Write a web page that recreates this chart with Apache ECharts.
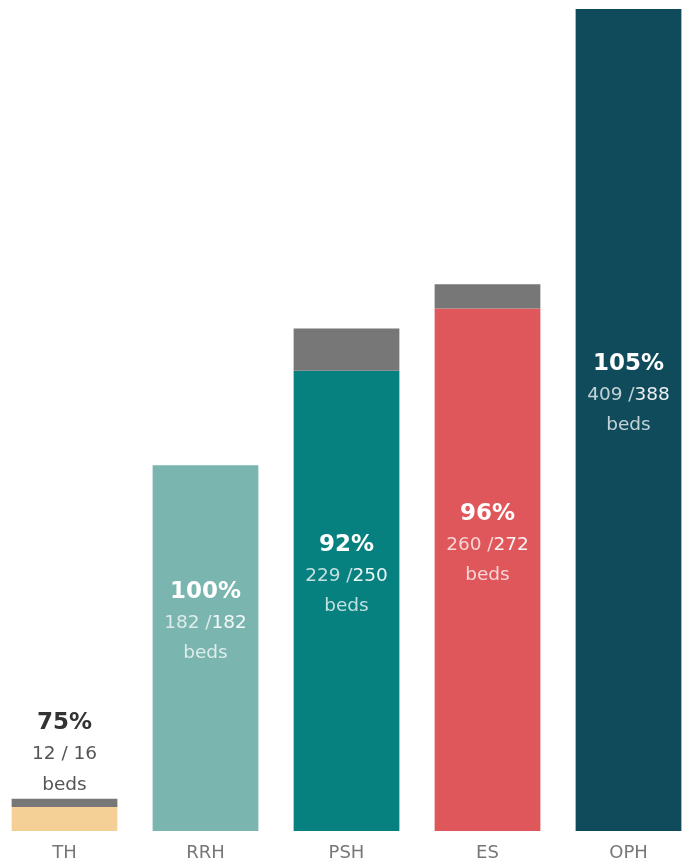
<!DOCTYPE html>
<html><head><meta charset="utf-8">
<script src="https://cdn.jsdelivr.net/npm/echarts@6/dist/echarts.min.js"></script>
<style>html,body{margin:0;padding:0;background:#fff}#c{width:692px;height:861px}</style>
</head><body><div id="c"></div>
<script>
const categories = ['TH','RRH','PSH','ES','OPH'];
const occupied = [12,182,229,260,409];
const capacity = [16,182,250,272,388];
const pctLabels = ['75%','100%','92%','96%','105%'];
const barColors = ['#F4D096','#7AB5AF','#07817F','#E0575B','#0F4B5B'];
const greyColor = '#777777';

const remaining = capacity.map((c,i)=>Math.max(c-occupied[i],0));
const FONT = '"DejaVu Sans", sans-serif';

const occData = occupied.map((v,i)=>{
  const d = {value:v, itemStyle:{color:barColors[i]}};
  if (i===0) { d.label = {show:false}; }
  return d;
});
const remData = remaining.map((v,i)=>{
  const d = {value:v};
  if (i===0) {
    d.label = {
      show:true, position:'top', distance:-1,
      formatter: `{p|${pctLabels[i]}}\n{n|${occupied[i]} / ${capacity[i]}}\n{b|beds}`,
      rich:{
        p:{fontSize:23,fontWeight:'bold',color:'#333',lineHeight:32,fontFamily:FONT},
        n:{fontSize:18.5,color:'#555',lineHeight:31,fontFamily:FONT},
        b:{fontSize:18.5,color:'#555',lineHeight:30,fontFamily:FONT}
      }
    };
  }
  return d;
});

const chart = echarts.init(document.getElementById('c'), null, {renderer:'canvas'});
chart.setOption({
  animation:false,
  grid:{left:-6, width:705, top:9, bottom:30, containLabel:false, outerBoundsMode:'none'},
  xAxis:{type:'category', data:categories,
    axisLine:{show:false}, axisTick:{show:false},
    axisLabel:{color:'#777', fontSize:18, margin:13, fontFamily:FONT}},
  yAxis:{type:'value', min:0, max:409, show:false, splitLine:{show:false}},
  series:[
    {type:'bar', stack:'s', data:occData, barWidth:'75%',
      label:{show:true, position:'inside', offset:[0,-26],
        formatter:(p)=>`{p|${pctLabels[p.dataIndex]}}\n{n|${occupied[p.dataIndex]} /}{m|${capacity[p.dataIndex]}}\n{b|beds}`,
        rich:{
          p:{fontSize:23,fontWeight:'bold',color:'#fff',lineHeight:32,fontFamily:FONT},
          n:{fontSize:18.5,color:'rgba(255,255,255,0.75)',lineHeight:30,fontFamily:FONT},
          m:{fontSize:18.5,color:'rgba(255,255,255,0.92)',lineHeight:30,fontFamily:FONT},
          b:{fontSize:18.5,color:'rgba(255,255,255,0.75)',lineHeight:30,fontFamily:FONT}
        }}},
    {type:'bar', stack:'s', data:remData, barWidth:'75%', itemStyle:{color:greyColor}, label:{show:false}}
  ]
});
</script></body></html>
